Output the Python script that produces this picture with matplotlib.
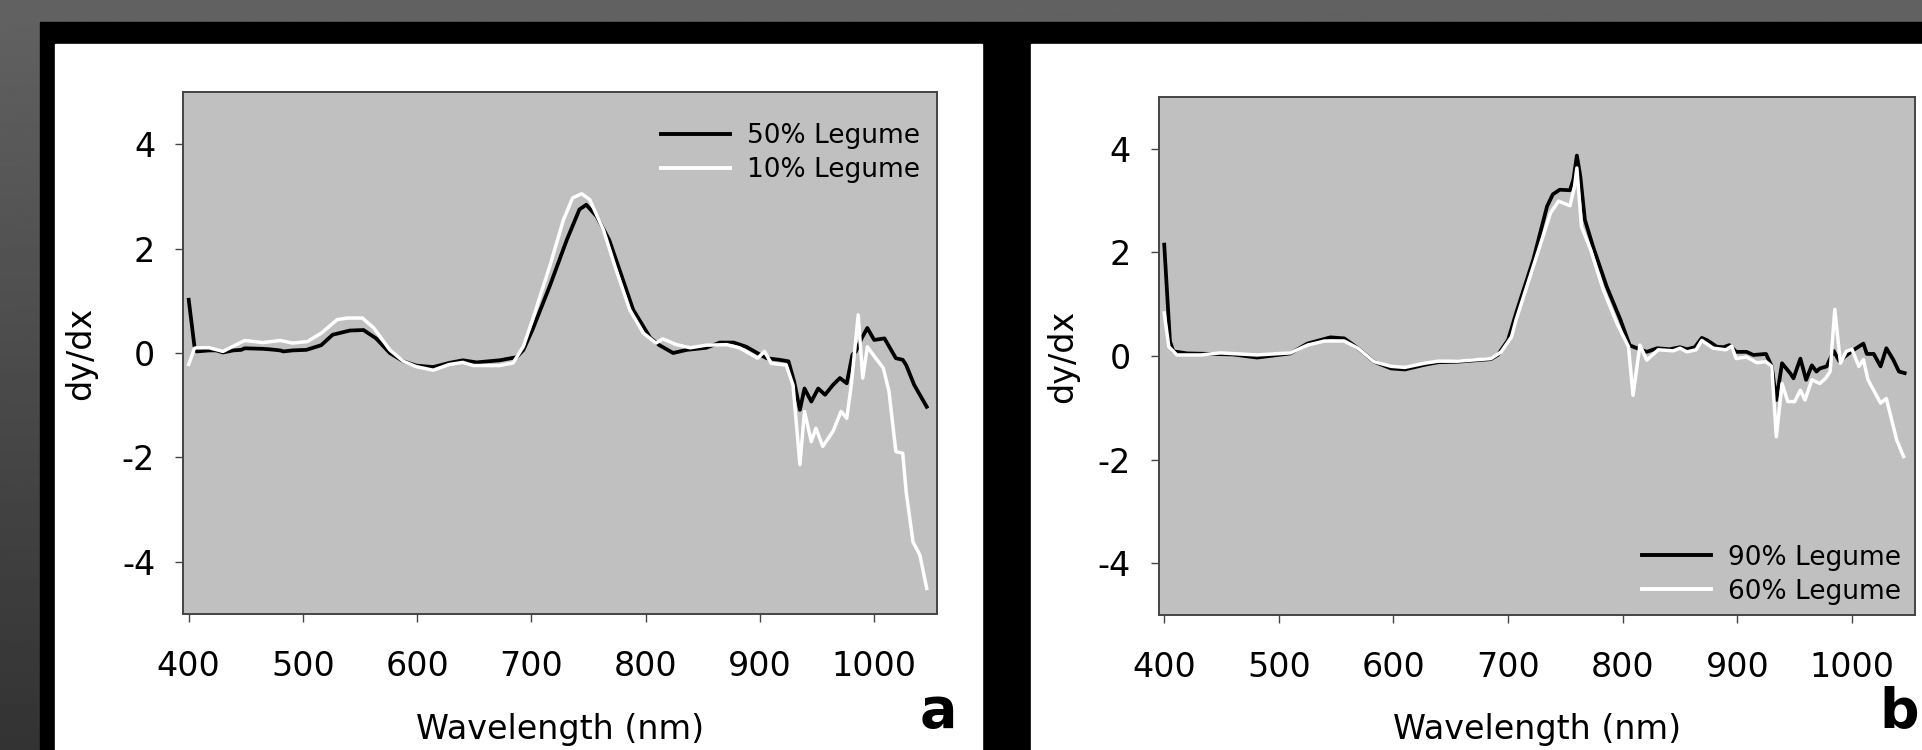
import numpy as np
import matplotlib
matplotlib.use('Agg')
import matplotlib.pyplot as plt
from matplotlib.patches import Rectangle

W, H = 1922, 750

# panel a: 50% vs 10% legume
a50_nm = [400, 405, 407, 418, 424, 430, 439, 446, 449, 465, 471, 480, 483, 491, 503, 516, 526,
          541, 553, 564, 576, 588, 599, 614, 628, 640, 652, 672, 687, 693, 701, 716, 731, 742,
          748, 757, 768, 777, 789, 804, 812, 824, 836, 853, 865, 877, 888, 900, 906, 917, 925,
          930, 935, 939, 945, 951, 957, 964, 970, 976, 981, 984, 989, 994, 1000, 1009, 1019,
          1025, 1028, 1035, 1046]
a50_val = [1.02, 0.13, 0.03, 0.05, 0.05, 0.01, 0.05, 0.06, 0.09, 0.08, 0.07, 0.05, 0.03, 0.05,
           0.06, 0.15, 0.35, 0.43, 0.44, 0.28, 0.0, -0.16, -0.24, -0.27, -0.19, -0.14, -0.18,
           -0.14, -0.08, 0.06, 0.45, 1.28, 2.17, 2.75, 2.84, 2.62, 2.17, 1.6, 0.83, 0.29, 0.15,
           0.0, 0.06, 0.1, 0.2, 0.2, 0.12, -0.03, -0.1, -0.13, -0.16, -0.55, -1.09, -0.68, -0.93,
           -0.68, -0.8, -0.61, -0.48, -0.58, -0.03, 0.03, 0.28, 0.48, 0.25, 0.28, -0.1, -0.13,
           -0.23, -0.61, -1.03]
a10_nm = [400, 405, 407, 418, 430, 439, 449, 465, 480, 491, 504, 516, 530, 539, 552, 562, 576,
          588, 599, 614, 628, 640, 649, 672, 684, 693, 701, 716, 728, 736, 744, 751, 763, 774,
          786, 798, 809, 815, 827, 839, 853, 871, 882, 898, 904, 910, 923, 929, 935, 939, 945,
          949, 955, 964, 971, 976, 980, 986, 990, 994, 999, 1008, 1013, 1019, 1025, 1028, 1034,
          1040, 1046]
a10_val = [-0.22, 0.09, 0.1, 0.1, 0.03, 0.13, 0.24, 0.2, 0.24, 0.19, 0.22, 0.38, 0.64, 0.67,
           0.67, 0.48, 0.06, -0.16, -0.26, -0.33, -0.22, -0.18, -0.24, -0.24, -0.19, 0.13, 0.64,
           1.66, 2.55, 2.97, 3.05, 2.94, 2.36, 1.6, 0.83, 0.38, 0.19, 0.27, 0.16, 0.1, 0.15,
           0.16, 0.1, -0.1, 0.03, -0.2, -0.23, -0.62, -2.14, -1.12, -1.7, -1.44, -1.79, -1.5,
           -1.12, -1.25, -0.61, 0.73, -0.48, 0.12, -0.03, -0.29, -0.74, -1.89, -1.92, -2.66,
           -3.62, -3.87, -4.51]

# panel b: 90% vs 60% legume
b90_nm = [400, 405, 408, 420, 440, 460, 481, 510, 525, 545, 557, 569, 583, 598, 610, 627, 639,
          656, 685, 691, 700, 707, 722, 734, 739, 745, 754, 757, 760, 763, 767, 774, 786, 798,
          806, 809, 821, 830, 841, 850, 856, 863, 869, 874, 882, 888, 893, 899, 908, 914, 925,
          930, 934, 939, 946, 949, 955, 960, 965, 969, 972, 978, 984, 989, 995, 1001, 1010,
          1013, 1019, 1025, 1030, 1036, 1041, 1046]
b90_val = [2.15, 0.28, 0.09, 0.05, 0.04, 0.03, -0.03, 0.05, 0.24, 0.36, 0.34, 0.15, -0.11,
           -0.24, -0.26, -0.17, -0.12, -0.11, -0.06, 0.02, 0.31, 0.83, 1.86, 2.89, 3.12, 3.21,
           3.2, 3.41, 3.87, 3.47, 2.63, 2.12, 1.34, 0.7, 0.21, 0.18, 0.08, 0.15, 0.13, 0.17,
           0.13, 0.17, 0.35, 0.3, 0.18, 0.17, 0.21, 0.08, 0.08, 0.02, 0.04, -0.2, -0.85, -0.14,
           -0.33, -0.43, -0.05, -0.46, -0.18, -0.3, -0.24, -0.2, 0.1, -0.1, 0.01, 0.11, 0.24,
           0.04, 0.04, -0.2, 0.15, -0.07, -0.3, -0.33]
b60_nm = [400, 404, 411, 432, 449, 481, 510, 525, 540, 557, 569, 583, 598, 610, 627, 639, 656,
          685, 694, 703, 707, 722, 737, 744, 754, 758, 760, 764, 772, 783, 795, 805, 809, 815,
          821, 831, 844, 850, 856, 864, 869, 879, 890, 895, 899, 908, 917, 925, 930, 934, 939,
          944, 950, 955, 959, 965, 972, 977, 981, 985, 990, 995, 1000, 1006, 1010, 1014, 1025,
          1030, 1039, 1045]
b60_val = [0.83, 0.18, 0.02, 0.02, 0.06, 0.02, 0.06, 0.21, 0.29, 0.29, 0.15, -0.11, -0.2,
           -0.22, -0.14, -0.1, -0.1, -0.05, 0.08, 0.37, 0.7, 1.73, 2.76, 2.99, 2.9, 3.28, 3.63,
           2.5, 2.05, 1.28, 0.63, 0.18, -0.76, 0.21, -0.08, 0.12, 0.1, 0.15, 0.08, 0.12, 0.3,
           0.15, 0.12, 0.19, -0.05, -0.02, -0.13, -0.11, -0.2, -1.56, -0.53, -0.88, -0.88, -0.66,
           -0.85, -0.46, -0.53, -0.43, -0.3, 0.9, -0.14, 0.09, 0.13, -0.2, -0.07, -0.46, -0.91,
           -0.82, -1.62, -1.94]

x_ticks = [400, 500, 600, 700, 800, 900, 1000]
y_ticks = [-4, -2, 0, 2, 4]

plt.rcParams['font.family'] = ['DejaVu Sans']
plt.rcParams['axes.unicode_minus'] = False  # plain hyphen like the original


def px_rect(l, t, r, b):
    return [l / W, 1 - b / H, (r - l) / W, (b - t) / H]


fig = plt.figure(figsize=(W / 100, H / 100), dpi=100)

# slide background: dark gray gradient
bg = fig.add_axes([0, 0, 1, 1])
grad = np.linspace(0.385, 0.2, 256).reshape(-1, 1)
bg.imshow(grad, cmap='gray', vmin=0, vmax=1, aspect='auto', extent=[0, W, H, 0])
bg.set_xlim(0, W)
bg.set_ylim(H, 0)
bg.axis('off')
bg.add_patch(Rectangle((40, 22), W - 40, H - 22, color='black'))
bg.add_patch(Rectangle((55, 44), 982 - 55, H - 44, color='white'))
bg.add_patch(Rectangle((1031, 44), W - 1031, H - 44, color='white'))


def panel(rect, s1, s2, labels, leg_loc, leg_anchor, ylab_x, xlab_y):
    ax = fig.add_axes(rect)
    ax.set_facecolor('#c0c0c0')
    ax.plot(s1[0], s1[1], color='black', lw=2.7, label=labels[0])
    ax.plot(s2[0], s2[1], color='white', lw=2.5, label=labels[1])
    ax.set_xlim(395, 1055)
    ax.set_ylim(-5, 5)
    ax.set_xticks(x_ticks)
    ax.set_yticks(y_ticks)
    for sp in ax.spines.values():
        sp.set_color('#444444')
        sp.set_linewidth(1.4)
    ax.tick_params(axis='both', direction='out', length=6, width=1, color='#444444',
                   labelsize=24)
    ax.tick_params(axis='y', pad=14)
    ax.tick_params(axis='x', pad=20)
    ax.set_ylabel('dy/dx', fontsize=24)
    ax.set_xlabel('Wavelength (nm)', fontsize=24, va='top')
    ax.yaxis.set_label_coords(ylab_x, 0.5)
    ax.xaxis.set_label_coords(0.5, xlab_y)
    leg = ax.legend(loc=leg_loc, bbox_to_anchor=leg_anchor, frameon=False, fontsize=19,
                    handlelength=2.6, handletextpad=0.65, labelspacing=0.3,
                    borderaxespad=0, borderpad=0)
    for ln in leg.get_lines():
        ln.set_linewidth(2.8)
    return ax


panel(px_rect(183, 92, 937, 614), (a50_nm, a50_val), (a10_nm, a10_val),
      ['50% Legume', '10% Legume'], 'upper right', (0.9775, 0.94), -0.114, -0.19)
panel(px_rect(1158.5, 97, 1915, 615), (b90_nm, b90_val), (b60_nm, b60_val),
      ['90% Legume', '60% Legume'], 'lower right', (0.9815, 0.02), -0.105, -0.189)

fig.text(938 / W, 1 - 727 / H, 'a', fontsize=40, fontweight='bold', ha='center', va='baseline')
fig.text(1919 / W, 1 - 727 / H, 'b', fontsize=40, fontweight='bold', ha='right', va='baseline')

fig.savefig('out.png', dpi=100)
